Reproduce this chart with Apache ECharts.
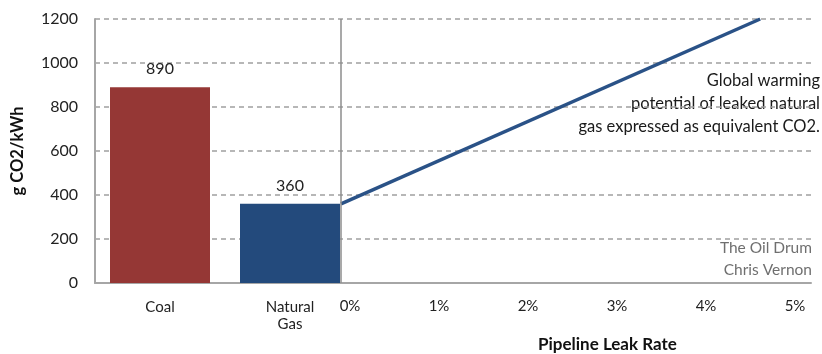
<!DOCTYPE html>
<html>
<head>
<meta charset="utf-8">
<script src="https://cdn.jsdelivr.net/npm/echarts@6/dist/echarts.min.js"></script>
<style>html,body{margin:0;padding:0;background:#fff}#c{width:822px;height:354px}</style>
</head>
<body>
<div id="c"></div>
<script>
// Data
var fuelCategories = ['Coal', 'Natural\nGas'];
var fuelValues = [890, 360];
var fuelColors = ['#953735', '#234a7c'];
var leakRates = [0, 4.71];          // % pipeline leak rate
var leakEquivCO2 = [360, 1200];     // g CO2/kWh equivalent
var leakTickValues = [0, 1, 2, 3, 4, 5];
var yTicks = [0, 200, 400, 600, 800, 1000, 1200];

var FONT = 'Lato, "Open Sans", sans-serif';
var chart = echarts.init(document.getElementById('c'));
var gridTop = 19, gridBottom = 71;
var yMax = yTicks[yTicks.length - 1];

chart.setOption({
  animation: false,
  textStyle: { fontFamily: FONT },
  grid: [
    { left: 95, top: gridTop, width: 260, bottom: gridBottom },
    { left: 95, top: gridTop, right: 11, bottom: gridBottom }
  ],
  xAxis: [
    {
      type: 'category', gridIndex: 0, data: fuelCategories,
      axisLine: { show: false }, axisTick: { show: false },
      axisLabel: { fontSize: 15, color: '#222', margin: 16, lineHeight: 17, fontFamily: FONT }
    },
    {
      type: 'value', gridIndex: 1, min: -2.764, max: 5.281,
      axisLine: { show: true, lineStyle: { color: '#a6a6a6', width: 2 } },
      axisTick: { show: false }, splitLine: { show: false },
      axisLabel: {
        customValues: leakTickValues, fontSize: 15, color: '#222', margin: 16,
        padding: [0, 0, 0, 18], fontFamily: FONT,
        formatter: function (v) { return v + '%'; }
      }
    }
  ],
  yAxis: [
    {
      type: 'value', gridIndex: 0, min: 0, max: yMax, interval: 200,
      name: 'g CO2/kWh', nameLocation: 'middle', nameGap: 69, nameRotate: 90,
      nameTextStyle: { fontSize: 16.5, fontWeight: 'bold', color: '#111', fontFamily: FONT },
      axisLine: { show: true, lineStyle: { color: '#a6a6a6', width: 2 } },
      axisTick: { show: false }, splitLine: { show: false },
      axisLabel: { fontSize: 16, color: '#222', margin: 17, fontFamily: FONT,
        formatter: function (v) { return String(v); } }
    },
    {
      type: 'value', gridIndex: 1, min: 0, max: yMax, interval: 200,
      axisLine: { show: false }, axisTick: { show: false }, axisLabel: { show: false },
      splitLine: { show: true, lineStyle: { color: '#a0a0a0', type: [5, 4], width: 1.5 } }
    }
  ],
  series: [
    {
      type: 'bar', xAxisIndex: 0, yAxisIndex: 0, barWidth: 100,
      data: fuelValues.map(function (v, i) { return { value: v, itemStyle: { color: fuelColors[i] } }; }),
      label: { show: true, position: 'top', distance: 10, fontSize: 16, color: '#222', fontFamily: FONT }
    },
    {
      type: 'line', xAxisIndex: 1, yAxisIndex: 1, symbol: 'none',
      data: leakRates.map(function (x, i) { return [x, leakEquivCO2[i]]; }),
      lineStyle: { color: '#2a5287', width: 3.5 },
      markLine: {
        silent: true, symbol: 'none', label: { show: false },
        lineStyle: { color: '#8c8c8c', type: 'solid', width: 1.5 },
        data: [{ xAxis: 0 }]
      }
    }
  ],
  graphic: [
    { type: 'text', x: 820, y: 69, style: { text: 'Global warming\npotential of leaked natural\ngas expressed as equivalent CO2.', align: 'right', verticalAlign: 'top', fontSize: 16.5, lineHeight: 23, fill: '#1a1a1a', fontFamily: FONT } },
    { type: 'text', x: 812, y: 237, style: { text: 'The Oil Drum\nChris Vernon', align: 'right', verticalAlign: 'top', fontSize: 15.5, lineHeight: 22, fill: '#6f6f6f', fontFamily: FONT } },
    { type: 'text', x: 538, y: 336, style: { text: 'Pipeline Leak Rate', fontSize: 17, fontWeight: 'bold', fill: '#111', fontFamily: FONT } }
  ]
});
</script>
</body>
</html>
